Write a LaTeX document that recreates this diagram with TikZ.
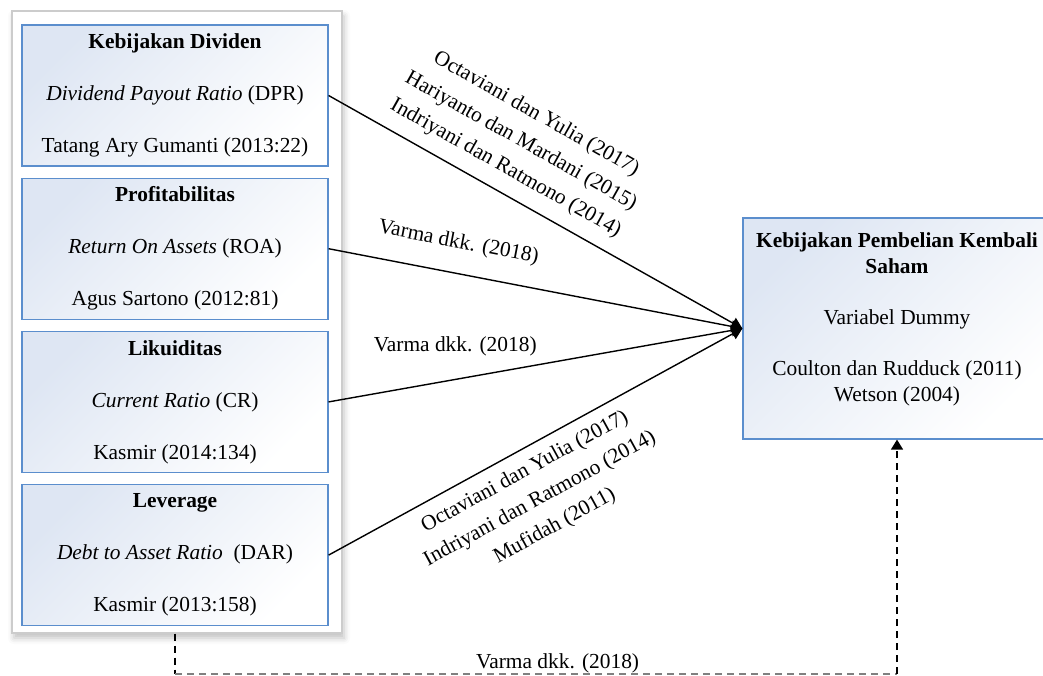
\documentclass[tikz,border=0pt]{standalone}
\usepackage{fontspec}
\setmainfont{Liberation Serif}
\usepackage{xcolor}
\usepackage{tikz}
\usetikzlibrary{positioning}
\usetikzlibrary{arrows.meta}
\usetikzlibrary{shadows,shadows.blur}

\definecolor{boxblue}{RGB}{91,142,205}
\definecolor{boxtint}{RGB}{222,230,243}
\definecolor{framegray}{RGB}{204,204,204}

\tikzset{
  txt/.style={font=\fontsize{10.7}{13}\selectfont},
  varbox/.style={txt, draw=boxblue, line width=0.6pt, top color=boxtint, bottom color=white, shading angle=45,
    minimum width=153pt, minimum height=70.5pt, align=center, inner sep=0pt},
  panel/.style={draw=framegray, line width=0.6pt, fill=white, minimum width=165pt, minimum height=311pt,
    blur shadow={shadow xshift=1pt, shadow yshift=-2.5pt, shadow blur radius=3pt, shadow opacity=25}},
  cite/.style={txt, align=center, inner sep=0pt, font=\fontsize{10.7}{15.5}\selectfont},
  link/.style={line width=0.7pt, -{Triangle[length=5.5pt, width=6pt]}},
  vdash/.style={line width=0.7pt, dash pattern=on 3.5pt off 2.5pt},
  hdash/.style={line width=0.6pt, gray, dash pattern=on 3.5pt off 2.5pt}
}

\begin{document}
\begin{tikzpicture}[x=0.5pt, y=-0.5pt]
        \useasboundingbox (0,0) rectangle (1043,675);
        \clip (0,0) rectangle (1043,675);

        %PANEL KIRI
        \node[panel] (frame) at (177,322) {};

        %VARIABEL X
        \node[varbox] (dpr) at (175,95.5) {\textbf{Kebijakan Dividen}\\[13pt]\textit{Dividend Payout Ratio} (DPR)\\[13pt]Tatang Ary Gumanti (2013:22)};
        \node[varbox, below=5.5pt of dpr] (roa) {\textbf{Profitabilitas}\\[13pt]\textit{Return On Assets} (ROA)\\[13pt]Agus Sartono (2012:81)};
        \node[varbox, below=5.5pt of roa] (cr) {\textbf{Likuiditas}\\[13pt]\textit{Current Ratio} (CR)\\[13pt]Kasmir (2014:134)};
        \node[varbox, below=5.5pt of cr] (dar) {\textbf{Leverage}\\[13pt]\textit{Debt to Asset Ratio}~ (DAR)\\[13pt]Kasmir (2013:158)};

        %VARIABEL Y
        \node[varbox, minimum width=154pt, minimum height=110.5pt] (buyback) at (897,328.5) {};
        \node[txt, align=center, inner sep=0pt, anchor=north] (buybacktext) at ([yshift=-7.5pt]buyback.north) {\textbf{Kebijakan Pembelian Kembali}\\\textbf{Saham}\\[12.5pt]Variabel Dummy\\[12.5pt]Coulton dan Rudduck (2011)\\Wetson (2004)};

        %PANAH
        \draw[link] (dpr.east) -- node[cite, sloped, pos=0.4, above=6.5pt]{Octaviani dan Yulia (2017)\\Hariyanto dan Mardani (2015)\\Indriyani dan Ratmono (2014)} (buyback.west);
        \draw[link] (roa.east) -- node[cite, sloped, pos=0.3, above=10pt]{Varma dkk. (2018)} (buyback.west);
        \draw[link] (cr.east) -- node[cite, pos=0.306, above=11.5pt]{Varma dkk. (2018)} (buyback.west);
        \draw[link] (dar.east) -- node[cite, sloped, pos=0.45, below=5.5pt]{Octaviani dan Yulia (2017)\\Indriyani dan Ratmono (2014)\\Mufidah (2011)} (buyback.west);

        %GARIS PUTUS-PUTUS
        \coordinate (dleft) at (175,674);
        \coordinate (dright) at (dleft -| buyback.south);
        \draw[vdash] (frame.south -| dleft) -- (dleft);
        \draw[hdash] (dleft) -- node[cite, black, pos=0.53, above=0pt]{Varma dkk. (2018)} (dright);
        \draw[vdash, -{Triangle[length=5pt, width=6pt]}] (dright) -- (buyback.south);
    \end{tikzpicture}
\end{document}
